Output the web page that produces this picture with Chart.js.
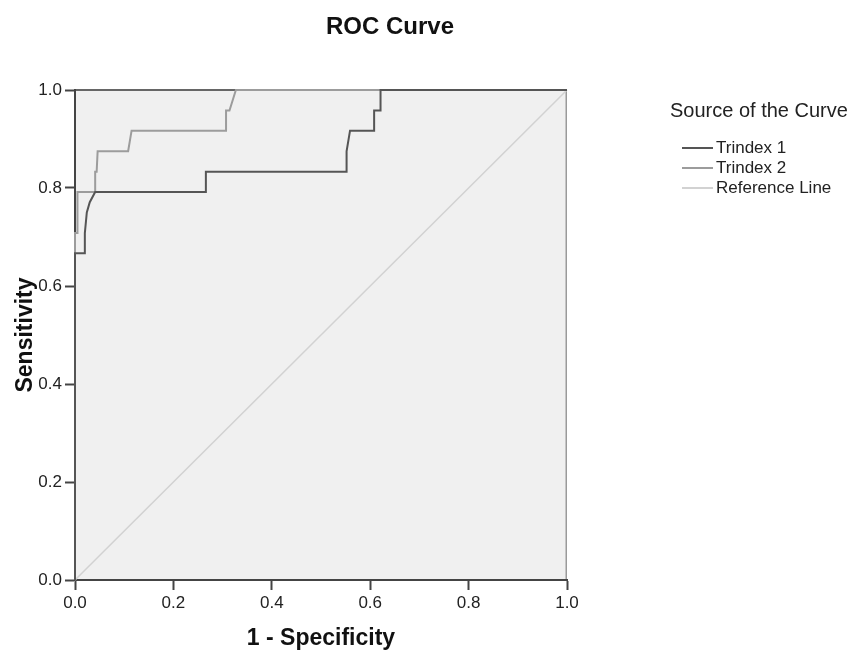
<!DOCTYPE html>
<html>
<head>
<meta charset="utf-8">
<script src="https://cdn.jsdelivr.net/npm/chart.js@4.4.1/dist/chart.umd.min.js"></script>
<style>
  html, body { margin: 0; padding: 0; background: #ffffff; }
  #wrap { position: relative; width: 851px; height: 650px; }
</style>
</head>
<body>
<div id="wrap"><canvas id="c" width="851" height="650"></canvas></div>
<script>
// ---- Data ----
const chartTitle = "ROC Curve";
const xTitle = "1 - Specificity";
const yTitle = "Sensitivity";
const legendTitle = "Source of the Curve";
const seriesNames = ["Trindex 1", "Trindex 2", "Reference Line"];

const fpr1 = [0, 0, 0.020, 0.020, 0.024, 0.030, 0.041, 0.266, 0.266, 0.552, 0.552, 0.559, 0.608, 0.608, 0.621, 0.621, 1.0];
const tpr1 = [0, 0.667, 0.667, 0.708, 0.750, 0.771, 0.792, 0.792, 0.833, 0.833, 0.875, 0.917, 0.917, 0.958, 0.958, 1.0, 1.0];

const fpr2 = [0, 0, 0.005, 0.005, 0.041, 0.041, 0.044, 0.046, 0.108, 0.115, 0.307, 0.307, 0.314, 0.327, 1.0];
const tpr2 = [0, 0.708, 0.708, 0.792, 0.792, 0.833, 0.833, 0.875, 0.875, 0.917, 0.917, 0.958, 0.958, 1.0, 1.0];

const fprRef = [0, 1];
const tprRef = [0, 1];

const tickValues = [0, 0.2, 0.4, 0.6, 0.8, 1.0];

const colors = ["#555555", "#9c9c9c", "#d2d2d2"];

function pts(xs, ys) { return xs.map((x, i) => ({ x: x, y: ys[i] })); }

const FONT = "'Liberation Sans', Arial, sans-serif";

const decorPlugin = {
  id: 'decor',
  beforeDraw(chart) {
    const { ctx, chartArea: a } = chart;
    ctx.save();
    ctx.fillStyle = '#f0f0f0';
    ctx.fillRect(a.left, a.top, a.right - a.left, a.bottom - a.top);
    ctx.strokeStyle = '#9a9a9a';
    ctx.lineWidth = 1.5;
    ctx.beginPath();
    ctx.moveTo(a.right - 0.75, a.top);
    ctx.lineTo(a.right - 0.75, a.bottom);
    ctx.stroke();
    ctx.strokeStyle = '#666';
    ctx.lineWidth = 2;
    ctx.beginPath();
    ctx.moveTo(a.left, a.top);
    ctx.lineTo(a.right, a.top);
    ctx.stroke();
    ctx.restore();
  },
  afterDraw(chart) {
    const { ctx, chartArea: a } = chart;
    ctx.save();
    ctx.fillStyle = '#111';
    ctx.textAlign = 'center';
    ctx.textBaseline = 'middle';
    ctx.font = "bold 24px " + FONT;
    ctx.fillText(chartTitle, 390, 27);
    ctx.font = "bold 23px " + FONT;
    ctx.fillText(xTitle, (a.left + a.right) / 2, 639);
    ctx.save();
    ctx.translate(32, (a.top + a.bottom) / 2);
    ctx.rotate(-Math.PI / 2);
    ctx.textBaseline = 'alphabetic';
    ctx.fillText(yTitle, 0, 0);
    ctx.restore();

    // legend
    ctx.textAlign = 'left';
    ctx.textBaseline = 'middle';
    ctx.fillStyle = '#222';
    ctx.font = "20px " + FONT;
    ctx.fillText(legendTitle, 670, 111);
    ctx.font = "17px " + FONT;
    const ds = chart.data.datasets;
    ds.forEach((d, i) => {
      const y = 148 + i * 20;
      ctx.strokeStyle = d.borderColor;
      ctx.lineWidth = 2;
      ctx.beginPath();
      ctx.moveTo(682, y);
      ctx.lineTo(713, y);
      ctx.stroke();
      ctx.fillStyle = '#222';
      ctx.fillText(d.label, 716, y);
    });
    ctx.restore();
  }
};

const axisCommon = {
  type: 'linear',
  min: 0,
  max: 1,
  afterBuildTicks(scale) { scale.ticks = tickValues.map(v => ({ value: v })); },
  ticks: {
    callback: v => Number(v).toFixed(1),
    color: '#222',
    font: { family: FONT, size: 17 },
    padding: 3
  },
  grid: {
    display: true,
    drawOnChartArea: false,
    drawTicks: true,
    tickLength: 10,
    tickWidth: 2,
    tickColor: '#444'
  },
  border: { display: true, color: '#444', width: 2 }
};

new Chart(document.getElementById('c'), {
  type: 'scatter',
  data: {
    datasets: [
      { label: seriesNames[0], data: pts(fpr1, tpr1), borderColor: colors[0], borderWidth: 2 },
      { label: seriesNames[1], data: pts(fpr2, tpr2), borderColor: colors[1], borderWidth: 2 },
      { label: seriesNames[2], data: pts(fprRef, tprRef), borderColor: colors[2], borderWidth: 1.5 }
    ].map(d => Object.assign(d, { showLine: true, pointRadius: 0, pointHoverRadius: 0, fill: false, tension: 0, clip: false }))
  },
  options: {
    responsive: false,
    animation: false,
    devicePixelRatio: 1,
    layout: { padding: { top: 90, right: 284, bottom: 0, left: 0 } },
    plugins: { legend: { display: false }, title: { display: false }, tooltip: { enabled: false } },
    scales: {
      x: Object.assign({}, axisCommon, { afterFit(s) { s.height = 70; } }),
      y: Object.assign({}, axisCommon, { afterFit(s) { s.width = 75; } })
    }
  },
  plugins: [decorPlugin]
});
</script>
</body>
</html>
